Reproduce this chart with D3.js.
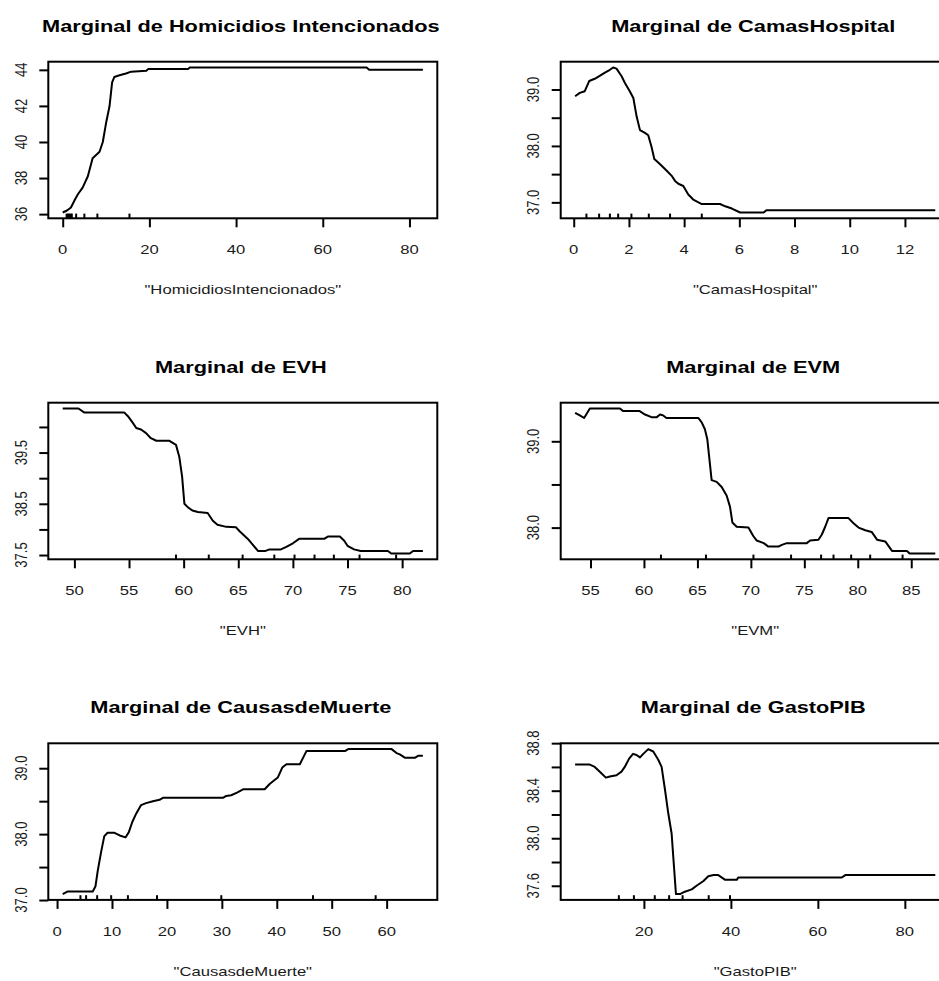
<!DOCTYPE html>
<html>
<head>
<meta charset="utf-8">
<script src="https://cdn.jsdelivr.net/npm/d3@7"></script>
<style>
  body { margin: 0; background: #fff; }
  svg { display: block; }
</style>
</head>
<body>
<script>
// Partial dependence curves (marginal effect on the response)

// HomicidiosIntencionados
const homX = [0, 1.0, 1.9, 2.8, 3.5, 4.6, 5.8, 6.9, 8.5, 9.25, 10.0, 10.8, 11.4, 11.9, 13.1, 14.6, 15.8, 19.3, 19.7, 28.9, 29.3, 70.1, 70.7, 83.1];
const homY = [36.09, 36.2, 36.37, 36.8, 37.1, 37.47, 38.1, 39.1, 39.46, 40.0, 41.05, 41.98, 43.3, 43.6, 43.7, 43.8, 43.9, 43.95, 44.04, 44.04, 44.13, 44.13, 44.0, 44.0];
const homRug = [0.9, 1.2, 1.5, 1.8, 2.1, 3.1, 5.0, 8.0, 15.4];
const homXTicks = [0, 20, 40, 60, 80];
const homYTicks = [36, 38, 40, 42, 44];
const homYLabels = ["36", "38", "40", "42", "44"];

// CamasHospital
const camX = [0.05, 0.22, 0.4, 0.56, 0.76, 0.94, 1.13, 1.31, 1.43, 1.55, 1.73, 1.85, 2.03, 2.16, 2.28, 2.4, 2.58, 2.7, 2.82, 2.92, 3.12, 3.37, 3.55, 3.67, 3.79, 3.97, 4.15, 4.33, 4.64, 5.3, 5.49, 5.73, 6.03, 6.88, 6.98, 13.1];
const camY = [38.88, 38.94, 38.97, 39.15, 39.19, 39.24, 39.30, 39.35, 39.39, 39.37, 39.24, 39.12, 38.97, 38.85, 38.52, 38.28, 38.23, 38.19, 37.98, 37.77, 37.68, 37.56, 37.47, 37.38, 37.33, 37.29, 37.14, 37.05, 36.97, 36.97, 36.93, 36.89, 36.82, 36.82, 36.86, 36.86];
const camRug = [0.46, 0.92, 1.31, 1.61, 2.09, 2.72, 3.49, 4.64];
const camXTicks = [0, 2, 4, 6, 8, 10, 12];
const camYTicks = [37.0, 37.5, 38.0, 38.5, 39.0];
const camYLabels = ["37.0", "", "38.0", "", "39.0"];

// EVH
const evhX = [48.93, 50.37, 50.92, 54.58, 54.9, 55.35, 55.66, 56.1, 56.56, 57.0, 57.5, 58.7, 59.3, 59.6, 59.86, 60.07, 60.4, 60.8, 61.3, 62.2, 62.67, 63.1, 63.9, 64.8, 65.1, 65.9, 66.3, 66.8, 67.5, 67.85, 68.9, 69.4, 70.0, 70.6, 72.9, 73.2, 74.3, 74.7, 75.0, 75.6, 76.2, 78.7, 79.0, 80.7, 81.0, 81.9];
const evhY = [40.36, 40.36, 40.28, 40.28, 40.21, 40.08, 39.98, 39.95, 39.88, 39.78, 39.73, 39.73, 39.65, 39.42, 39.03, 38.5, 38.43, 38.37, 38.34, 38.32, 38.17, 38.09, 38.05, 38.04, 37.97, 37.81, 37.71, 37.58, 37.58, 37.61, 37.61, 37.66, 37.73, 37.82, 37.82, 37.86, 37.86, 37.78, 37.68, 37.61, 37.58, 37.58, 37.53, 37.53, 37.58, 37.58];
const evhRug = [59.3, 62.3, 65.4, 68.3, 70.15, 71.98, 73.75, 76.1, 79.45];
const evhXTicks = [50, 55, 60, 65, 70, 75, 80];
const evhYTicks = [37.5, 38.0, 38.5, 39.0, 39.5, 40.0];
const evhYLabels = ["37.5", "", "38.5", "", "39.5", ""];

// EVM
const evmX = [53.56, 54.0, 54.4, 54.6, 54.94, 57.75, 58.06, 59.6, 60.1, 60.7, 61.2, 61.5, 61.8, 62.1, 65.08, 65.4, 65.7, 65.93, 66.1, 66.33, 66.8, 67.27, 67.74, 68.05, 68.27, 68.67, 69.77, 70.24, 70.55, 71.2, 71.64, 72.58, 72.9, 73.36, 75.23, 75.54, 76.32, 76.64, 76.95, 77.26, 79.13, 79.6, 80.07, 80.7, 81.3, 81.8, 82.57, 83.2, 84.6, 84.85, 87.25];
const evmY = [39.33, 39.30, 39.27, 39.31, 39.38, 39.38, 39.35, 39.35, 39.31, 39.28, 39.28, 39.31, 39.30, 39.27, 39.27, 39.22, 39.14, 39.02, 38.82, 38.55, 38.53, 38.47, 38.37, 38.24, 38.06, 38.01, 38.0, 37.90, 37.85, 37.82, 37.78, 37.78, 37.80, 37.82, 37.82, 37.85, 37.86, 37.92, 38.01, 38.11, 38.11, 38.05, 38.0, 37.97, 37.95, 37.86, 37.84, 37.73, 37.73, 37.70, 37.70];
const evmRug = [61.59, 65.8, 70.24, 73.76, 76.57, 77.73, 79.38, 81.16, 84.19];
const evmXTicks = [55, 60, 65, 70, 75, 80, 85];
const evmYTicks = [38.0, 38.5, 39.0];
const evmYLabels = ["38.0", "", "39.0"];

// CausasdeMuerte
const cauX = [1.03, 1.95, 6.5, 7.0, 7.4, 8.0, 8.6, 9.2, 10.46, 11.4, 12.46, 13.07, 13.68, 14.4, 15.3, 16.2, 17.45, 18.66, 19.27, 30.2, 30.8, 31.7, 32.77, 33.86, 37.8, 38.7, 39.6, 40.2, 41.0, 41.76, 44.2, 44.8, 45.4, 52.4, 53.0, 60.9, 61.8, 62.4, 63.3, 65.2, 65.8, 66.6];
const cauY = [37.09, 37.13, 37.13, 37.21, 37.44, 37.72, 37.97, 38.02, 38.02, 37.98, 37.95, 38.03, 38.18, 38.31, 38.44, 38.47, 38.50, 38.52, 38.55, 38.55, 38.58, 38.59, 38.63, 38.68, 38.68, 38.76, 38.82, 38.86, 39.01, 39.06, 39.06, 39.16, 39.26, 39.26, 39.29, 39.29, 39.23, 39.21, 39.16, 39.16, 39.19, 39.19];
const cauRug = [4.26, 5.29, 7.3, 9.85, 12.9, 18.2, 29.9, 46.6, 58.0];
const cauXTicks = [0, 10, 20, 30, 40, 50, 60];
const cauYTicks = [37.0, 37.5, 38.0, 38.5, 39.0];
const cauYLabels = ["37.0", "", "38.0", "", "39.0"];

// GastoPIB
const gasX = [4.18, 7.56, 8.7, 9.86, 11.24, 12.17, 13.7, 14.85, 15.6, 16.6, 17.5, 18.3, 19.1, 19.85, 21.0, 22.15, 23.3, 24.07, 24.84, 25.6, 26.37, 26.76, 27.37, 28.3, 29.4, 31.0, 32.1, 33.7, 34.8, 36.0, 37.1, 38.7, 41.35, 41.7, 65.5, 66.3, 87.0];
const gasY = [38.62, 38.62, 38.6, 38.56, 38.51, 38.52, 38.53, 38.56, 38.6, 38.67, 38.71, 38.7, 38.68, 38.71, 38.75, 38.73, 38.66, 38.6, 38.41, 38.21, 38.04, 37.84, 37.53, 37.53, 37.55, 37.57, 37.6, 37.64, 37.68, 37.69, 37.69, 37.65, 37.65, 37.67, 37.67, 37.69, 37.69];
const gasRug = [14.24, 17.7, 22.5, 25.8, 28.9, 34.9, 39.8];
const gasXTicks = [20, 40, 60, 80];
const gasYTicks = [37.6, 37.8, 38.0, 38.2, 38.4, 38.6, 38.8];
const gasYLabels = ["37.6", "", "38.0", "", "38.4", "", "38.8"];

const panels = [
  { name: "Homicidios Intencionados", varName: "HomicidiosIntencionados", x: homX, y: homY, rug: homRug, xTicks: homXTicks, yTicks: homYTicks, yLabels: homYLabels },
  { name: "CamasHospital", varName: "CamasHospital", x: camX, y: camY, rug: camRug, xTicks: camXTicks, yTicks: camYTicks, yLabels: camYLabels },
  { name: "EVH", varName: "EVH", x: evhX, y: evhY, rug: evhRug, xTicks: evhXTicks, yTicks: evhYTicks, yLabels: evhYLabels },
  { name: "EVM", varName: "EVM", x: evmX, y: evmY, rug: evmRug, xTicks: evmXTicks, yTicks: evmYTicks, yLabels: evmYLabels },
  { name: "CausasdeMuerte", varName: "CausasdeMuerte", x: cauX, y: cauY, rug: cauRug, xTicks: cauXTicks, yTicks: cauYTicks, yLabels: cauYLabels },
  { name: "GastoPIB", varName: "GastoPIB", x: gasX, y: gasY, rug: gasRug, xTicks: gasXTicks, yTicks: gasYTicks, yLabels: gasYLabels }
];

// Page layout: 3 rows x 2 columns of framed plot regions
const W = 939, H = 981;
const colLeft = [48.3, 560.7];
const rowTop = [61.7, 402.7, 743.3];
const boxW = 389, boxH = 156.6;
const textStretch = 1.28;   // glyphs drawn wider than tall
const tickLen = 9;
const rugLen = 4.7;

// Axis range padded by 4% on each side
function padded(vals) {
  const [lo, hi] = d3.extent(vals);
  const p = (hi - lo) * 0.04;
  return [lo - p, hi + p];
}

const svg = d3.select("body").append("svg")
  .attr("width", W).attr("height", H)
  .style("font-family", "'Liberation Sans', Arial, sans-serif");

function stretchedText(g, x, y, txt, opts) {
  const t = g.append("text")
    .attr("transform", `translate(${x},${y}) scale(${textStretch},1)` + (opts.rotate ? " rotate(-90)" : ""))
    .attr("text-anchor", "middle")
    .attr("font-size", opts.size)
    .attr("fill", opts.fill || "#1a1a1a")
    .text(txt);
  if (opts.bold) t.attr("font-weight", "bold");
  if (opts.dy) t.attr("dy", opts.dy);
  return t;
}

panels.forEach((p, i) => {
  const left = colLeft[i % 2];
  const top = rowTop[Math.floor(i / 2)];
  const right = left + boxW, bottom = top + boxH;

  const xs = d3.scaleLinear().domain(padded(p.x)).range([left, right]);
  const ys = d3.scaleLinear().domain(padded(p.y)).range([bottom, top]);

  const g = svg.append("g");

  // Curve
  const pts = p.x.map((v, k) => [v, p.y[k]]);
  g.append("path")
    .datum(pts)
    .attr("fill", "none")
    .attr("stroke", "#000")
    .attr("stroke-width", 2)
    .attr("stroke-linejoin", "round")
    .attr("d", d3.line().x(d => xs(d[0])).y(d => ys(d[1])));

  // Rug of the observed deciles along the bottom
  g.selectAll(".rug").data(p.rug).join("line")
    .attr("x1", d => xs(d)).attr("x2", d => xs(d))
    .attr("y1", bottom).attr("y2", bottom - rugLen)
    .attr("stroke", "#000").attr("stroke-width", 2);

  // Frame
  g.append("rect")
    .attr("x", left).attr("y", top)
    .attr("width", boxW).attr("height", boxH)
    .attr("fill", "none").attr("stroke", "#000").attr("stroke-width", 2);

  // X axis
  const xAxis = d3.axisBottom(xs).tickValues(p.xTicks).tickSize(tickLen).tickFormat("");
  const gx = g.append("g").attr("transform", `translate(0,${bottom})`).call(xAxis);
  gx.select(".domain").remove();
  gx.selectAll(".tick line").attr("stroke", "#000").attr("stroke-width", 2);
  p.xTicks.forEach(v => {
    stretchedText(g, xs(v), bottom + 36, String(v), { size: 13 });
  });

  // Y axis
  const yAxis = d3.axisLeft(ys).tickValues(p.yTicks).tickSize(tickLen).tickFormat("");
  const gy = g.append("g").attr("transform", `translate(${left},0)`).call(yAxis);
  gy.select(".domain").remove();
  gy.selectAll(".tick line").attr("stroke", "#000").attr("stroke-width", 2);
  p.yTicks.forEach((v, k) => {
    if (p.yLabels[k]) {
      stretchedText(g, left - 27.5, ys(v), p.yLabels[k], { size: 13, rotate: true, dy: "0.36em" });
    }
  });

  // Titles
  stretchedText(g, (left + right) / 2 - 2, top - 30, "Marginal de " + p.name, { size: 17, bold: true, fill: "#000" });
  stretchedText(g, (left + right) / 2, bottom + 76, "\"" + p.varName + "\"", { size: 13 });
});
</script>
</body>
</html>
